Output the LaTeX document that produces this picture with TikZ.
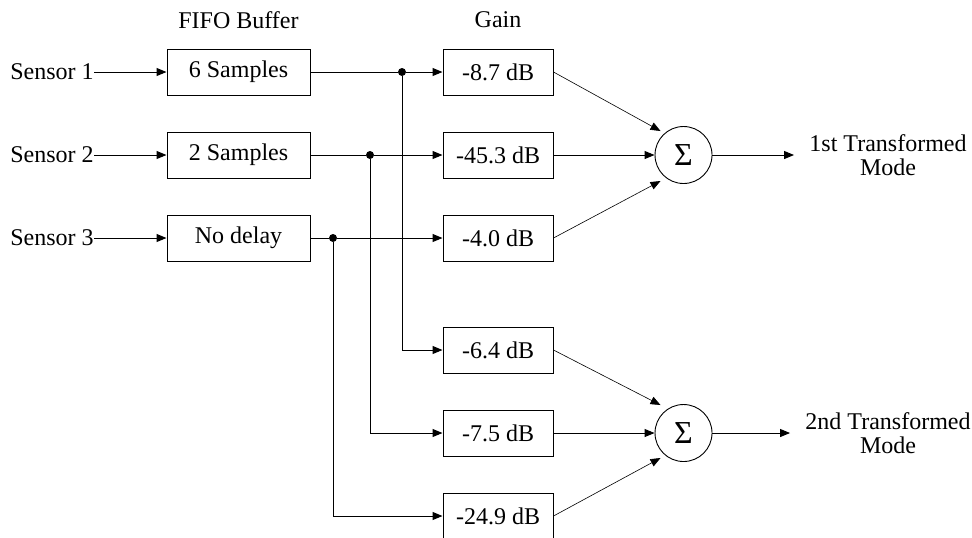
\documentclass[tikz,border=0pt]{standalone}
\usepackage{fontspec}
\setmainfont{Liberation Serif}
\usetikzlibrary{arrows.meta}
\begin{document}
\begin{tikzpicture}[x=0.5pt,y=-0.5pt,
	>={Triangle[length=5pt,width=4pt]},
	every node/.style={font=\fontsize{12}{12}\selectfont},
	delaybox/.style={draw,line width=0.5pt,minimum width=71.5pt,minimum height=23pt,inner sep=0pt},
	gainbox/.style={draw,line width=0.5pt,minimum width=55pt,minimum height=23pt,inner sep=0pt},
	sumnode/.style={draw,line width=0.45pt,circle,minimum size=28.5pt,inner sep=0pt,font=\fontsize{16}{16}\selectfont},
	junction/.style={fill,circle,inner sep=0pt,minimum size=4pt},
	feed/.style={->,line width=0.5pt},
	diag/.style={->,line width=0.3pt}]
	\useasboundingbox (0,0) rectangle (972,537);
	% column titles
	\node (tfifo) at (238.5,20) {FIFO Buffer};
	\node (tgain) at (498,20) {Gain};
	% inputs and delays
	\node [anchor=west,inner sep=0pt] (in1) at (10,72)  {Sensor 1};
	\node [anchor=west,inner sep=0pt] (in2) at (10,155) {Sensor 2};
	\node [anchor=west,inner sep=0pt] (in3) at (10,238) {Sensor 3};
	\node [delaybox] (d1) at (238.5,72)  {6 Samples};
	\node [delaybox] (d2) at (238.5,155) {2 Samples};
	\node [delaybox] (d3) at (238.5,238) {No delay};
	\draw [feed] (in1) -- (d1);
	\draw [feed] (in2) -- (d2);
	\draw [feed] (in3) -- (d3);
	% gains
	\node [gainbox] (g1) at (498,72)  {-8.7 dB};
	\node [gainbox] (g2) at (498,155) {-45.3 dB};
	\node [gainbox] (g3) at (498,238) {-4.0 dB};
	\node [gainbox] (g4) at (498,350) {-6.4 dB};
	\node [gainbox] (g5) at (498,433) {-7.5 dB};
	\node [gainbox] (g6) at (498,516) {-24.9 dB};
	% branch points
	\node [junction] (j1) at (402,72)  {};
	\node [junction] (j2) at (370,155) {};
	\node [junction] (j3) at (333,238) {};
	\draw [line width=0.5pt] (d1) -- (j1);
	\draw [line width=0.5pt] (d2) -- (j2);
	\draw [line width=0.5pt] (d3) -- (j3);
	\draw [feed] (j1) -- (g1);
	\draw [feed] (j2) -- (g2);
	\draw [feed] (j3) -- (g3);
	\draw [feed] (j1) |- (g4);
	\draw [feed] (j2) |- (g5);
	\draw [feed] (j3) |- (g6);
	% summing junctions
	\node [sumnode] (s1) at (683.5,155) {Σ};
	\node [sumnode] (s2) at (683.5,433) {Σ};
	\draw [diag] (g1.east) -- ([shift={(-23,-24)}]s1.center);
	\draw [feed] (g2) -- (s1);
	\draw [diag] (g3.east) -- ([shift={(-23,26)}]s1.center);
	\draw [diag] (g4.east) -- ([shift={(-23,-28)}]s2.center);
	\draw [feed] (g5) -- (s2);
	\draw [diag] (g6.east) -- ([shift={(-23,25)}]s2.center);
	% outputs
	\node [align=center,inner sep=0pt] (o1) at (888,155) {1st Transformed\\Mode};
	\node [align=center,inner sep=0pt] (o2) at (888,433) {2nd Transformed\\Mode};
	\draw [feed,shorten >=7.5pt] (s1) -- (o1);
	\draw [feed,shorten >=7.5pt] (s2) -- (o2);
\end{tikzpicture}
\end{document}
